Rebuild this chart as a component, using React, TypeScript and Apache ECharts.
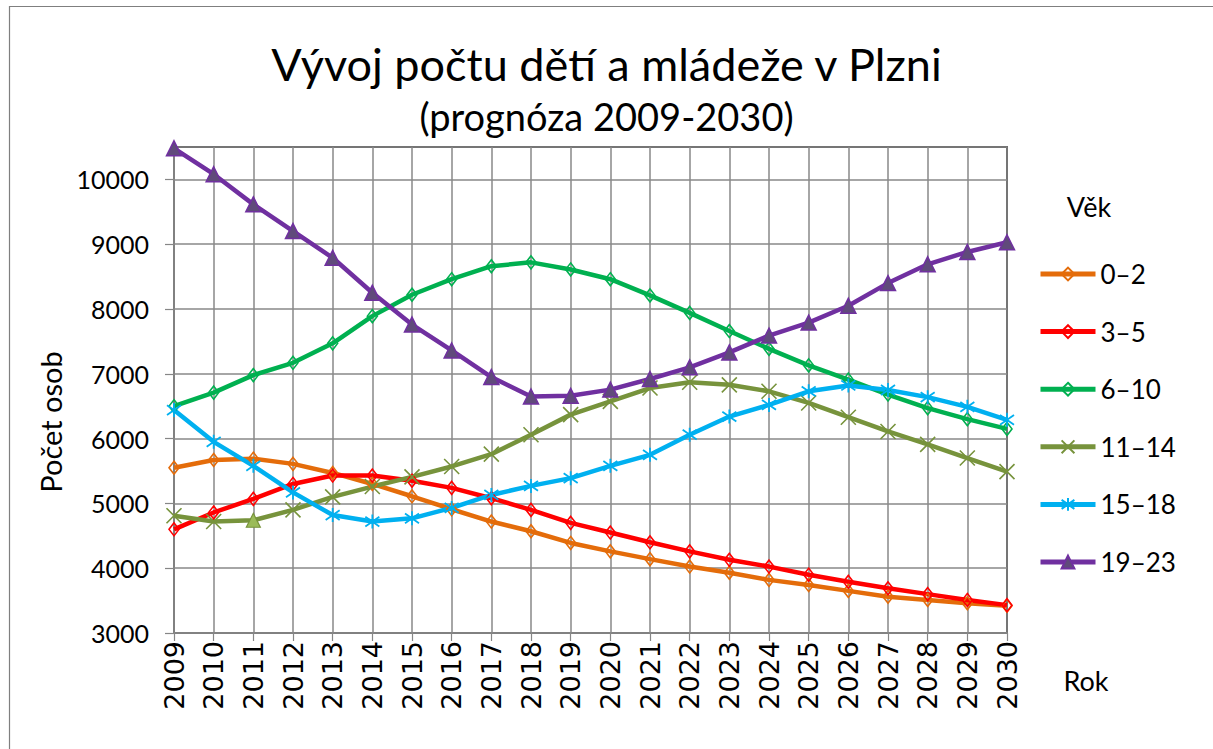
import React, { useEffect, useRef } from "react";
import * as echarts from "echarts";

const years = ["2009","2010","2011","2012","2013","2014","2015","2016","2017","2018","2019","2020","2021","2022","2023","2024","2025","2026","2027","2028","2029","2030"];

const age0_2 = [5550, 5670, 5690, 5610, 5470, 5300, 5110, 4910, 4720, 4570, 4390, 4260, 4140, 4025, 3930, 3820, 3740, 3650, 3560, 3510, 3460, 3420];
const age3_5 = [4600, 4860, 5070, 5300, 5430, 5430, 5350, 5240, 5080, 4900, 4700, 4550, 4400, 4260, 4130, 4025, 3900, 3790, 3690, 3600, 3510, 3430];
const age6_10 = [6500, 6710, 6980, 7170, 7470, 7890, 8220, 8460, 8660, 8720, 8610, 8460, 8210, 7940, 7660, 7385, 7130, 6910, 6680, 6470, 6300, 6150];
const age11_14 = [4810, 4720, 4740, 4900, 5100, 5260, 5410, 5570, 5760, 6060, 6370, 6575, 6780, 6870, 6830, 6730, 6550, 6330, 6110, 5910, 5700, 5490];
const age15_18 = [6440, 5950, 5580, 5170, 4820, 4720, 4770, 4930, 5130, 5270, 5390, 5580, 5750, 6060, 6340, 6520, 6730, 6820, 6750, 6640, 6490, 6290];
const age19_23 = [10480, 10080, 9615, 9203, 8790, 8250, 7760, 7360, 6950, 6650, 6660, 6756, 6920, 7100, 7330, 7590, 7790, 8050, 8400, 8690, 8880, 9030];

const seriesNames = ["0\u20132", "3\u20135", "6\u201310", "11\u201314", "15\u201318", "19\u201323"];
const yTicks = { min: 3000, max: 10500, interval: 1000 };

const FONT = "Lato, 'Open Sans', sans-serif";
const CROSS = "path://M0,0L10,10M10,0L0,10";
const STAR = "path://M5,0L5,10M0.8,1.5L9.2,8.5M9.2,1.5L0.8,8.5";

function lineSeries(name: string, data: any[], color: string, symbol: string, size: any, itemStyle: any) {
  return {
    name,
    type: "line",
    data,
    symbol,
    symbolSize: size,
    showAllSymbol: true,
    lineStyle: { color, width: 4.5 },
    itemStyle,
    emphasis: { disabled: true },
    z: 3,
  };
}

export default function App() {
  const ref = useRef<HTMLDivElement>(null);
  useEffect(() => {
    if (!ref.current) return;
    const chart = echarts.init(ref.current, null, { renderer: "svg" });
    const hollow = (c: string) => ({ color: "rgba(255,255,255,0)", borderColor: c, borderWidth: 1.6 });
    const olive11 = age11_14.map((v, i) =>
      i === 2
        ? { value: v, symbol: "triangle", symbolSize: 14, itemStyle: { color: "#9BBB59", borderColor: "#77933C", borderWidth: 1.2 } }
        : v
    );
    chart.setOption({
      animation: false,
      backgroundColor: "#fff",
      textStyle: { fontFamily: FONT },
      title: [
        { text: "Vývoj počtu dětí a mládeže v Plzni", left: "center", top: 36, textStyle: { fontFamily: FONT, fontSize: 45, fontWeight: "normal", color: "#000", lineHeight: 45 } },
        { text: "(prognóza 2009-2030)", left: "center", top: 92, textStyle: { fontFamily: FONT, fontSize: 38, fontWeight: "normal", color: "#000", lineHeight: 38 } },
      ],
      grid: { left: 174, right: 206, top: 147, bottom: 116, show: true, borderColor: "#000", borderWidth: 1.5, backgroundColor: "rgba(0,0,0,0)" },
      legend: {
        orient: "vertical",
        left: 1033,
        top: 254,
        itemWidth: 55,
        itemHeight: 16,
        itemGap: 27.6,
        lineStyle: { width: 5 },
        textStyle: { fontFamily: FONT, fontSize: 26, color: "#000", lineHeight: 30 },
        data: seriesNames,
      },
      xAxis: {
        type: "category",
        data: years,
        boundaryGap: false,
        axisLine: { lineStyle: { color: "#868686", width: 1.5 } },
        axisTick: { show: true, length: 8, lineStyle: { color: "#868686", width: 1.2 } },
        axisLabel: { rotate: 90, fontFamily: "'DejaVu Sans', sans-serif", fontSize: 27, color: "#000", margin: 8, interval: 0 },
        splitLine: { show: true, lineStyle: { color: "#888", width: 1.5 } },
      },
      yAxis: {
        type: "value",
        min: yTicks.min,
        max: yTicks.max,
        interval: yTicks.interval,
        axisLine: { show: true, lineStyle: { color: "#868686", width: 1.5 } },
        axisTick: { show: true, length: 9, lineStyle: { color: "#868686", width: 1.2 } },
        axisLabel: { fontFamily: FONT, fontSize: 25, color: "#000", margin: 25, showMaxLabel: false, formatter: (v: number) => String(v) },
        splitLine: { show: true, lineStyle: { color: "#888", width: 1.5 } },
      },
      graphic: [
        { type: "rect", left: 7, top: 4, shape: { x: 0, y: 0, width: 1210, height: 760 }, style: { fill: "none", stroke: "#7f7f7f", lineWidth: 1.2 }, silent: true, z: -10 },
        { type: "text", x: 50, y: 422, rotation: Math.PI / 2, style: { text: "Počet osob", font: `29px ${FONT}`, fill: "#000", align: "center", verticalAlign: "middle" } },
        { type: "text", x: 1086, y: 680, style: { text: "Rok", font: `27px ${FONT}`, fill: "#000", align: "center", verticalAlign: "middle" } },
        { type: "text", x: 1089, y: 206, style: { text: "Věk", font: `27px ${FONT}`, fill: "#000", align: "center", verticalAlign: "middle" } },
      ],
      series: [
        lineSeries(seriesNames[0], age0_2, "#E46C0A", "diamond", [10, 13], hollow("#E46C0A")),
        lineSeries(seriesNames[1], age3_5, "#FF0000", "diamond", [10, 13], hollow("#FF0000")),
        lineSeries(seriesNames[2], age6_10, "#00B050", "diamond", [10, 13], hollow("#00B050")),
        lineSeries(seriesNames[3], olive11, "#77933C", CROSS, 15, { color: "rgba(0,0,0,0)", borderColor: "#77933C", borderWidth: 1.6 }),
        lineSeries(seriesNames[4], age15_18, "#00B0F0", STAR, 14, { color: "rgba(0,0,0,0)", borderColor: "#00B0F0", borderWidth: 1.8 }),
        lineSeries(seriesNames[5], age19_23, "#7030A0", "triangle", 15, { color: "#604A7B", borderColor: "#7030A0", borderWidth: 1.5 }),
      ],
    });
    return () => chart.dispose();
  }, []);
  return <div ref={ref} style={{ position: "fixed", left: 0, top: 0, width: 1213, height: 749 }} />;
}
